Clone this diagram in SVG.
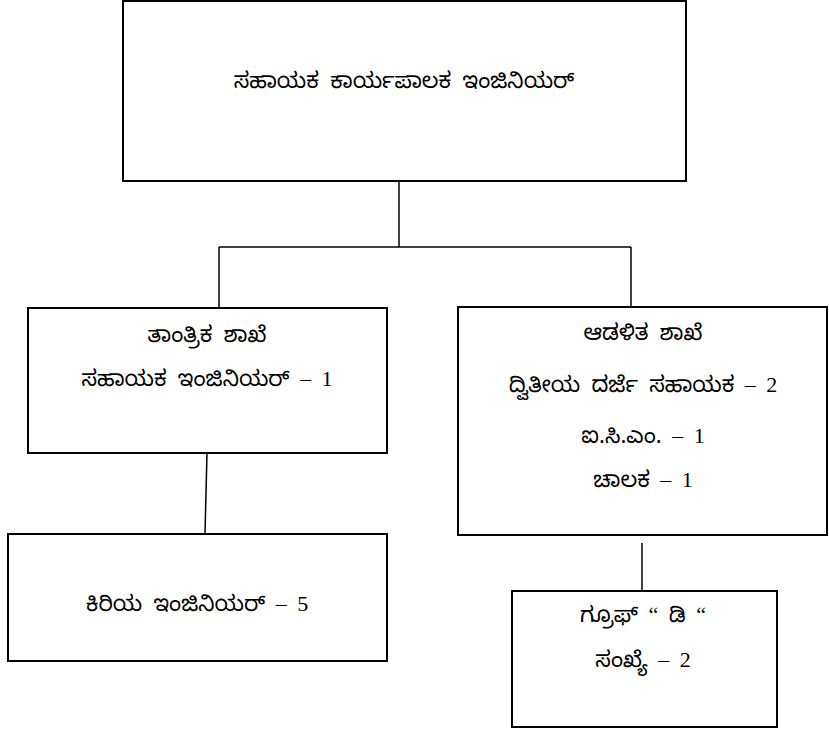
<svg xmlns="http://www.w3.org/2000/svg" width="829" height="730" viewBox="0 0 829 730">
<style>
.box{fill:#fff;stroke:#000;stroke-width:2}
.con{stroke:#000;stroke-width:1.5;fill:none}
text{font-family:"Noto Sans Kannada","Noto Sans","Liberation Serif",serif;font-size:22px;word-spacing:5px;text-anchor:middle;fill:#000}
.n{font-family:"Liberation Serif",serif;font-size:22px}
</style>
<rect width="829" height="730" fill="#fff"/>
<g id="connectors">
<line class="con" x1="399" y1="181" x2="399" y2="247"/>
<line class="con" x1="219" y1="247" x2="631" y2="247"/>
<line class="con" x1="219" y1="247" x2="219" y2="308"/>
<line class="con" x1="631" y1="247" x2="631" y2="307"/>
<line class="con" x1="207" y1="453" x2="205" y2="534"/>
<line class="con" x1="642" y1="543" x2="642" y2="591"/>
</g>
<g id="top">
<rect class="box" x="123" y="1" width="563" height="180"/>
<text x="404" y="88">ಸಹಾಯಕ ಕಾರ್ಯಪಾಲಕ ಇಂಜಿನಿಯರ್</text>
</g>
<g id="technical">
<rect class="box" x="28" y="308" width="359" height="145"/>
<text x="207" y="342">ತಾಂತ್ರಿಕ ಶಾಖೆ</text>
<text x="207" y="386">ಸಹಾಯಕ ಇಂಜಿನಿಯರ್<tspan class="n"> – 1</tspan></text>
</g>
<g id="junior">
<rect class="box" x="8" y="534" width="379" height="127"/>
<text x="197" y="611">ಕಿರಿಯ ಇಂಜಿನಿಯರ್<tspan class="n"> – 5</tspan></text>
</g>
<g id="admin">
<rect class="box" x="458" y="307" width="369" height="228"/>
<text x="643" y="340">ಆಡಳಿತ ಶಾಖೆ</text>
<text x="643" y="392">ದ್ವಿತೀಯ ದರ್ಜೆ ಸಹಾಯಕ<tspan class="n"> – 2</tspan></text>
<text x="643" y="443">ಐ.ಸಿ.ಎಂ.<tspan class="n"> – 1</tspan></text>
<text x="643" y="487">ಚಾಲಕ<tspan class="n"> – 1</tspan></text>
</g>
<g id="groupd">
<rect class="box" x="512" y="591" width="265" height="136"/>
<text x="643" y="622">ಗ್ರೂಫ್<tspan class="n"> “ </tspan>ಡಿ<tspan class="n"> “</tspan></text>
<text x="643" y="667">ಸಂಖ್ಯೆ<tspan class="n"> – 2</tspan></text>
</g>
</svg>
